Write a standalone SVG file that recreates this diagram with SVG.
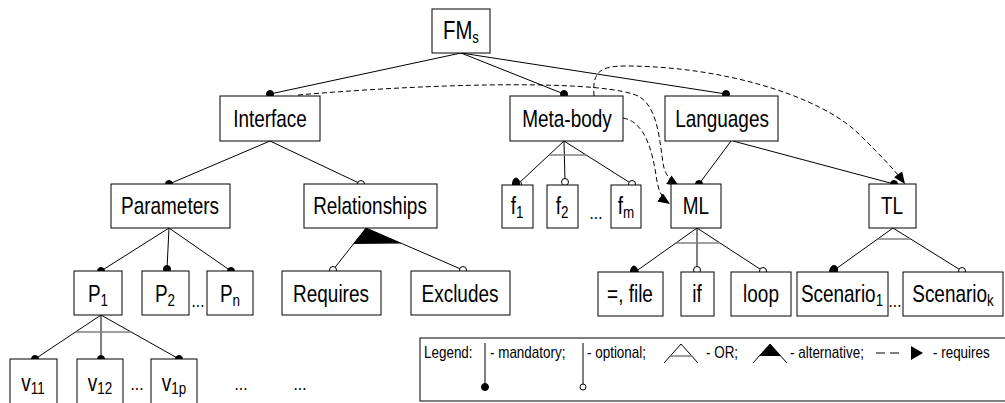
<svg xmlns="http://www.w3.org/2000/svg" width="1005" height="403" viewBox="0 0 1005 403">
<defs>
<style>
.box{fill:#fff;stroke:#000;stroke-width:1}
.lbl{font-family:"Liberation Sans",Arial,sans-serif;font-size:24px;text-anchor:middle;fill:#000}
.sub{font-size:17px}
.dots{font-family:"Liberation Sans",Arial,sans-serif;font-size:18px;text-anchor:middle;fill:#000}
.lg{font-family:"Liberation Sans",Arial,sans-serif;font-size:16px;fill:#000}
.ln{stroke:#000;stroke-width:1;fill:none}
.dash{stroke:#000;stroke-width:1;stroke-dasharray:5,3;fill:none}
.bar{stroke:#808080;stroke-width:1.5;fill:none}
.md{fill:#000;stroke:#000}
.op{fill:#fff;stroke:#000;stroke-width:1}
</style>
<marker id="arr" markerUnits="userSpaceOnUse" markerWidth="14" markerHeight="12" refX="12" refY="5" orient="auto">
<path d="M0,0 L12,5 L0,10 Z" fill="#000"/>
</marker>
</defs>
<rect width="1005" height="403" fill="#fff"/>

<g id="connectors">
<path class="ln" d="M461,53 L270,94 M461,53 L564,94 M461,53 L726,94"/>
<path class="ln" d="M270,141 L169,184 M270,141 L361,184"/>
<path class="ln" d="M169,228 L101,271 M169,228 L167,269 M169,228 L231,271"/>
<path class="ln" d="M101,315 L35,359 M101,315 L101,359 M101,315 L179,359"/>
<path class="bar" d="M75.5,332 L131,332"/>
<path class="ln" d="M366,228 L333,270 M366,228 L463,270"/>
<path d="M366,228 L353.4,244 L402,243.6 Z" fill="#000"/>
<path class="ln" d="M564,141 L518,184 M564,141 L565,182 M564,141 L632,184"/>
<path class="bar" d="M549,155 L586,155"/>
<path class="ln" d="M731,141 L699,184 M733,141 L894,184"/>
<path class="ln" d="M697,228 L635,272 M697,228 L697,270 M697,228 L763,271"/>
<path class="bar" d="M676,243 L720,243"/>
<path class="ln" d="M893,228 L833,271 M893,228 L962,271"/>
<path class="bar" d="M878,239 L911,239"/>
<path class="dash" marker-end="url(#arr)" d="M298,95 C450,82 610,80 640,97 C660,110 660,150 664,168 C667,177 671,181 679,186"/>
<path class="dash" marker-end="url(#arr)" d="M623,118 C645,122 652,150 656,175 C658,190 661,198 670,204"/>
<path class="dash" marker-end="url(#arr)" d="M594,96 C592,72 600,66 625,66 C720,66 820,95 860,135 C880,155 895,170 905,184"/>
<circle class="md" cx="270" cy="94" r="3.5"/>
<circle class="md" cx="564" cy="94" r="3.5"/>
<circle class="md" cx="726" cy="94" r="3.5"/>
<circle class="md" cx="169" cy="184" r="3.5"/>
<circle class="op" cx="361" cy="184" r="3.5"/>
<circle class="md" cx="101" cy="271" r="3.5"/>
<circle class="md" cx="167" cy="269" r="3.5"/>
<circle class="md" cx="231" cy="271" r="3.5"/>
<circle class="md" cx="35" cy="359" r="3.5"/>
<circle class="md" cx="101" cy="359" r="3.5"/>
<circle class="md" cx="179" cy="359" r="3.5"/>
<circle class="op" cx="333" cy="270" r="3.5"/>
<circle class="op" cx="463" cy="270" r="3.5"/>
<circle class="op" cx="518" cy="184" r="3.5"/>
<ellipse class="md" cx="516" cy="184" rx="3.5" ry="6"/>
<circle class="op" cx="565" cy="182" r="3.5"/>
<circle class="op" cx="632" cy="184" r="3.5"/>
<circle class="md" cx="699" cy="184" r="3.5"/>
<circle class="md" cx="894" cy="184" r="3.5"/>
<circle class="op" cx="635" cy="272" r="3.5"/>
<ellipse class="md" cx="634" cy="272" rx="3.5" ry="6"/>
<circle class="op" cx="697" cy="270" r="3.5"/>
<circle class="op" cx="763" cy="271" r="3.5"/>
<circle class="op" cx="833" cy="271" r="3.5"/>
<ellipse class="md" cx="834" cy="270" rx="3.5" ry="4.5"/>
<circle class="op" cx="962" cy="271" r="3.5"/>
</g>

<g id="FMs"><rect class="box" x="432" y="9" width="58" height="44"/><text class="lbl" style="font-size:26px" transform="translate(461,39) scale(0.78,1)">FM<tspan class="sub" dy="4">s</tspan></text></g>
<g id="Interface"><rect class="box" x="220" y="96" width="100" height="45"/><text class="lbl" transform="translate(270,127) scale(0.79,1)">Interface</text></g>
<g id="Meta-body"><rect class="box" x="510" y="96" width="113" height="45"/><text class="lbl" transform="translate(567,127) scale(0.79,1)">Meta-body</text></g>
<g id="Languages"><rect class="box" x="665" y="96" width="113" height="45"/><text class="lbl" transform="translate(722,127) scale(0.79,1)">Languages</text></g>
<g id="Parameters"><rect class="box" x="111" y="184" width="119" height="44"/><text class="lbl" transform="translate(170,214) scale(0.79,1)">Parameters</text></g>
<g id="Relationships"><rect class="box" x="304" y="184" width="133" height="44"/><text class="lbl" transform="translate(370,214) scale(0.79,1)">Relationships</text></g>
<g id="f1"><rect class="box" x="502" y="185" width="31" height="43"/><text class="lbl" transform="translate(517,214) scale(0.79,1)">f<tspan class="sub" dy="4">1</tspan></text></g>
<g id="f2"><rect class="box" x="547" y="185" width="31" height="43"/><text class="lbl" transform="translate(562,214) scale(0.79,1)">f<tspan class="sub" dy="4">2</tspan></text></g>
<text class="dots" transform="translate(596,219) scale(0.86,1)">...</text>
<g id="fm"><rect class="box" x="611" y="185" width="30" height="43"/><text class="lbl" transform="translate(626,214) scale(0.79,1)">f<tspan class="sub" dy="4">m</tspan></text></g>
<g id="ML"><rect class="box" x="671" y="184" width="50" height="44"/><text class="lbl" transform="translate(696,214) scale(0.79,1)">ML</text></g>
<g id="TL"><rect class="box" x="869" y="184" width="47" height="44"/><text class="lbl" transform="translate(892,214) scale(0.79,1)">TL</text></g>
<g id="P1"><rect class="box" x="74" y="271" width="48" height="44"/><text class="lbl" transform="translate(98,302) scale(0.79,1)">P<tspan class="sub" dy="4">1</tspan></text></g>
<g id="P2"><rect class="box" x="142" y="271" width="47" height="44"/><text class="lbl" transform="translate(165,302) scale(0.79,1)">P<tspan class="sub" dy="4">2</tspan></text></g>
<text class="dots" transform="translate(198,307) scale(0.86,1)">...</text>
<g id="Pn"><rect class="box" x="207" y="271" width="46" height="44"/><text class="lbl" transform="translate(230,302) scale(0.79,1)">P<tspan class="sub" dy="4">n</tspan></text></g>
<g id="Requires"><rect class="box" x="282" y="271" width="99" height="44"/><text class="lbl" transform="translate(331,302) scale(0.79,1)">Requires</text></g>
<g id="Excludes"><rect class="box" x="411" y="271" width="99" height="44"/><text class="lbl" transform="translate(460,302) scale(0.79,1)">Excludes</text></g>
<g id="file"><rect class="box" x="598" y="272" width="65" height="44"/><text class="lbl" transform="translate(630,302) scale(0.79,1)">=, file</text></g>
<g id="if"><rect class="box" x="681" y="272" width="33" height="44"/><text class="lbl" transform="translate(697,302) scale(0.79,1)">if</text></g>
<g id="loop"><rect class="box" x="731" y="272" width="60" height="44"/><text class="lbl" transform="translate(761,302) scale(0.79,1)">loop</text></g>
<g id="Scenario1"><rect class="box" x="797" y="272" width="91" height="44"/><text class="lbl" transform="translate(842,302) scale(0.79,1)">Scenario<tspan class="sub" dy="4">1</tspan></text></g>
<text class="dots" transform="translate(895,307) scale(0.86,1)">...</text>
<g id="Scenariok"><rect class="box" x="903" y="272" width="100" height="44"/><text class="lbl" transform="translate(953,302) scale(0.79,1)">Scenario<tspan class="sub" dy="4">k</tspan></text></g>
<g id="v11"><rect class="box" x="10" y="359" width="47" height="50"/><text class="lbl" transform="translate(33,391) scale(0.79,1)">v<tspan class="sub" dy="3">11</tspan></text></g>
<g id="v12"><rect class="box" x="77" y="359" width="46" height="50"/><text class="lbl" transform="translate(100,391) scale(0.79,1)">v<tspan class="sub" dy="3">12</tspan></text></g>
<text class="dots" transform="translate(137,390) scale(0.86,1)">...</text>
<g id="v1p"><rect class="box" x="151" y="359" width="46" height="50"/><text class="lbl" transform="translate(174,391) scale(0.79,1)">v<tspan class="sub" dy="3">1p</tspan></text></g>
<text class="dots" transform="translate(241,390) scale(0.86,1)">...</text>
<text class="dots" transform="translate(300,390) scale(0.86,1)">...</text>

<g id="legend">
<rect x="420" y="338" width="600" height="63" fill="#fff" stroke="#000" stroke-width="1"/>
<text class="lg" transform="translate(424,358) scale(0.84,1)">Legend:</text>
<path class="ln" d="M485,343 L485,384"/>
<circle class="md" cx="485" cy="387" r="3.5"/>
<text class="lg" transform="translate(490,358) scale(0.84,1)">- mandatory;</text>
<path class="ln" d="M583,343 L583,384"/>
<circle class="op" cx="583" cy="387" r="3"/>
<text class="lg" transform="translate(587,358) scale(0.84,1)">- optional;</text>
<path class="ln" d="M664,363 L681,344 L698,363"/>
<path class="bar" d="M670,356 L692,356"/>
<text class="lg" transform="translate(706,358) scale(0.84,1)">- OR;</text>
<path class="ln" d="M753,363 L770,344 L787,363"/>
<path d="M770,344 L759,356 L781,356 Z" fill="#000"/>
<text class="lg" transform="translate(790,358) scale(0.84,1)">- alternative;</text>
<path class="dash" d="M876,353 L904,353" style="stroke-dasharray:9,5"/>
<path d="M911,346 L923,353 L911,360 Z" fill="#000"/>
<text class="lg" transform="translate(933,358) scale(0.84,1)">- requires</text>
</g>
</svg>
